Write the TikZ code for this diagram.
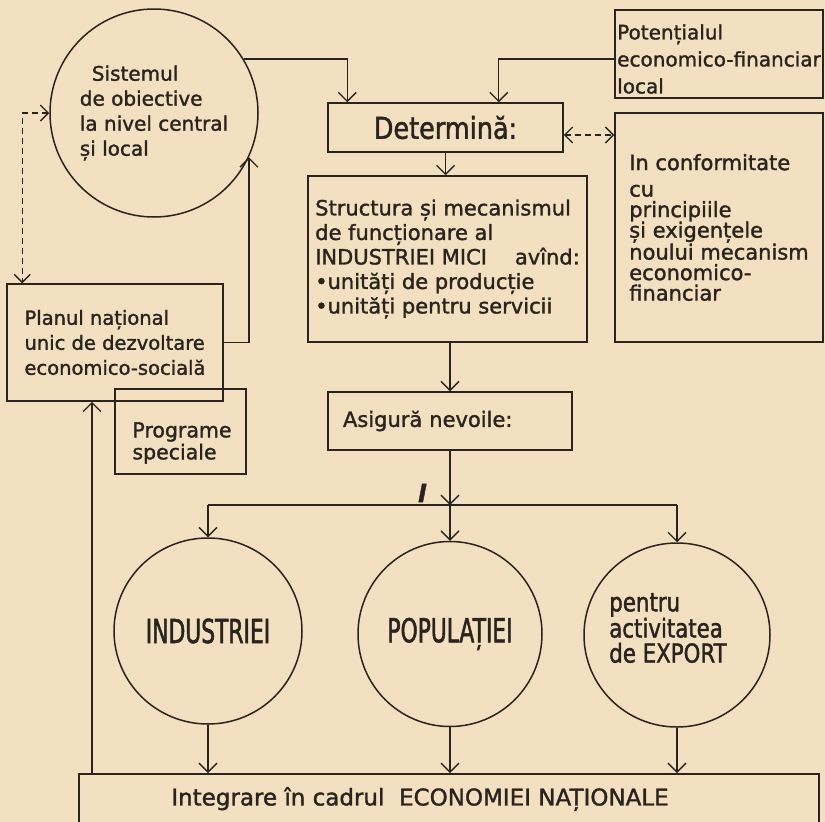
\documentclass[tikz,border=0pt]{standalone}
\usepackage{fontspec}
\setmainfont[FakeBold=1.5]{DejaVu Sans}
\newfontfamily\condf[FakeStretch=0.66,FakeBold=1.5]{DejaVu Sans}
\newfontfamily\detf[FakeStretch=0.85,FakeBold=1.5]{DejaVu Sans}
\newfontfamily\midf[FakeStretch=0.82,FakeBold=1.5]{DejaVu Sans}
\usetikzlibrary{shapes.geometric,arrows.meta,calc}
\definecolor{paper}{HTML}{F2E0C0}
\definecolor{ink}{HTML}{2A2420}
\begin{document}
\begin{tikzpicture}[x=1pt,y=-1pt,
 every node/.style={text=ink},
 box/.style={draw=ink,line width=1.5pt,rectangle,inner sep=0pt,align=left},
 oval/.style={draw=ink,line width=1.5pt,ellipse,inner sep=0pt,align=left},
 arr/.style={draw=ink,line width=1.3pt,-{Straight Barb[length=9pt,width=18pt]}},
 darr/.style={draw=ink,line width=1.3pt,dash pattern=on 6pt off 4pt,{Straight Barb[length=8pt,width=16pt]}-{Straight Barb[length=8pt,width=16pt]}},
 ln/.style={draw=ink,line width=1.3pt},
 plain/.style={inner sep=0pt,align=left},
]
\fill[paper] (0,0) rectangle (825,822);
\useasboundingbox (0,0) rectangle (825,822);

% top left circle
\node[draw=ink,line width=1.5pt,circle,minimum size=208pt,inner sep=0pt,align=left,
  font=\fontsize{20}{25}\selectfont] (sis) at (154,113)
  {\hspace*{12pt}Sistemul\\de obiective\\la nivel central\\și local};

% boxes
\node[box,minimum width=235pt,minimum height=49pt,font=\detf\fontsize{30}{30}\selectfont] (det) at (445.5,127.5) {Determină:};
\node[box,minimum width=208pt,minimum height=88pt] (pot) at (719,54) {};
\node[plain,font=\fontsize{20}{27}\selectfont] (pottxt) at (719,59)
  {Potențialul\\economico-financiar\\local};
\node[box,minimum width=208pt,minimum height=229pt,font=\fontsize{21}{20.5}\selectfont] (conf) at (719,227.5)
  {In conformitate\\[6pt]cu\\principiile\\și exigențele\\noului mecanism\\economico-\\financiar};
\node[box,minimum width=279pt,minimum height=166pt,font=\fontsize{21}{24.5}\selectfont] (struct) at (447.5,259)
  {Structura și mecanismul\\de funcționare al\\INDUSTRIEI MICI\hspace{28pt}avînd:\\•unități de producție\\•unități pentru servicii};
\node[box,minimum width=244pt,minimum height=58pt,inner xsep=15pt,text width=214pt,font=\fontsize{21}{25}\selectfont] (asig) at (450,421)
  {Asigură nevoile:};
\node[box,minimum width=216pt,minimum height=117pt,font=\fontsize{19.5}{25}\selectfont] (plan) at (115,342.5)
  {Planul național\\unic de dezvoltare\\economico-socială};
\node[box,minimum width=131pt,minimum height=85pt] (prog) at (180.5,431.5) {};
\node[plain,font=\fontsize{20.5}{22}\selectfont] (progtxt) at (182,443) {Programe\\speciale};

% ellipses
\node[oval,minimum width=188pt,minimum height=186pt,font=\condf\fontsize{33}{33}\selectfont] (ind) at (208,631) {INDUSTRIEI};
\node[oval,minimum width=184pt,minimum height=185pt,font=\condf\fontsize{33}{33}\selectfont] (pop) at (450,634) {POPULAȚIEI};
\node[oval,minimum width=186pt,minimum height=184pt] (exp) at (677,635) {};
\node[plain,font=\midf\fontsize{26}{25}\selectfont] (exptxt) at (668,628) {pentru\\activitatea\\de EXPORT};

% bottom box
\node[box,minimum width=740pt,minimum height=60pt,anchor=north west] (integ) at (78,773) {};
\node[plain,font=\fontsize{23}{23}\selectfont] (integtxt) at (420,799) {Integrare în cadrul\ \ ECONOMIEI NAȚIONALE};

% stray mark
\node[plain,font=\bfseries\itshape\fontsize{24}{24}\selectfont] (mark) at (422,493) {l};

% connectors
\draw[arr] (sis.31) -| ([xshift=20pt]det.north west);
\draw[arr] ([yshift=-5pt]pot.west) -| ([xshift=-65pt]det.north east);
\draw[darr] ([yshift=-7.5pt]det.east) -- ([yshift=-7.5pt]det.east -| conf.west);
\draw[darr] (sis.west) -| ([xshift=16pt]plan.north west);
\draw[arr] (plan.east) -| (sis.-25);
\draw[arr] (det.south) -- (det.south |- struct.north);
\draw[arr] (asig.north |- struct.south) -- (asig.north);
\coordinate (br) at (450,505);
\draw[arr] (asig.south) -- (br);
\draw[ln] (ind.north |- br) -- (exp.north |- br);
\draw[arr] (ind.north |- br) -- (ind.north);
\draw[arr] (br) -- (pop.north);
\draw[arr] (exp.north |- br) -- (exp.north);
\draw[arr] (ind.south) -- (ind.south |- integ.north);
\draw[arr] (pop.south) -- (pop.south |- integ.north);
\draw[arr] (exp.south) -- (exp.south |- integ.north);
\draw[arr] ([xshift=14pt]integ.north west) -- ([xshift=14pt]integ.north west |- plan.south);
\end{tikzpicture}
\end{document}
